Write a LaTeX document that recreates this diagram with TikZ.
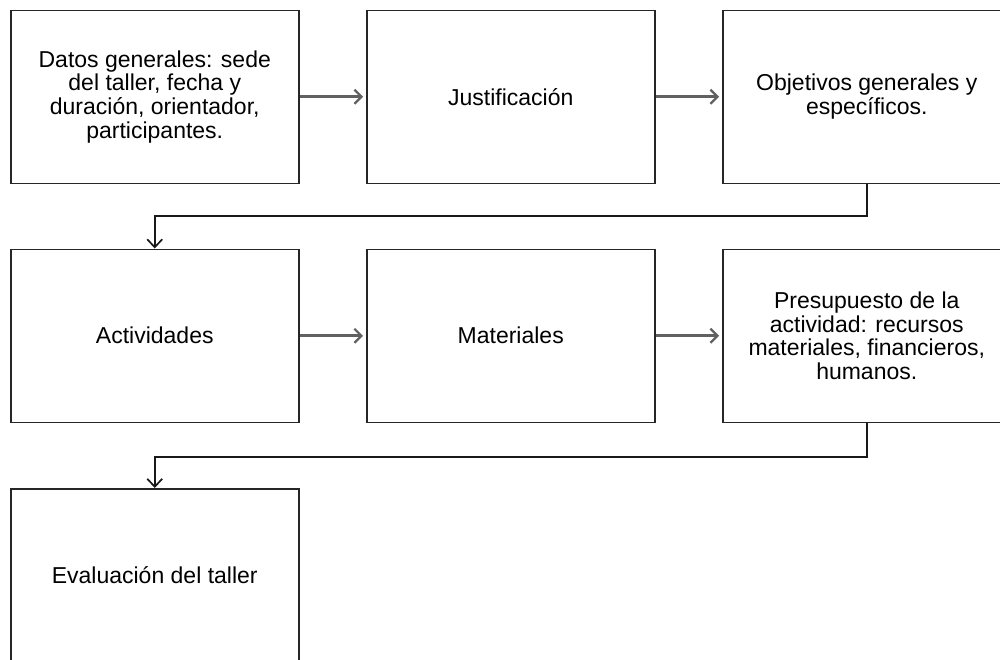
\documentclass[tikz,border=0pt]{standalone}
\usepackage{fontspec}
\setmainfont{Liberation Sans}
\usetikzlibrary{arrows.meta}
\begin{document}
\begin{tikzpicture}[x=1pt,y=-1pt,
  box/.style={draw=black!85,line width=1.5pt,minimum width=288pt,minimum height=173pt,
    inner sep=0pt,align=center,font=\fontsize{23}{23.7}\selectfont,text=black,anchor=north west},
  flow/.style={draw=black!62,line width=2.6pt,shorten >=3pt,
    -{Straight Barb[length=7pt,width=14pt,line width=2.2pt]}},
  elbow/.style={draw=black!90,line width=1.5pt,
    -{Straight Barb[length=8pt,width=15pt,line width=1.7pt]}}]
\useasboundingbox (0,0) rectangle (1000,659);
\clip (0,0) rectangle (1000,659);
\node[box] (n1) at (10,9.5) {Datos generales: sede\\del taller, fecha y\\duración, orientador,\\participantes.};
\node[box] (n2) at (366,9.5) {Justificación};
\node[box] (n3) at (722,9.5) {Objetivos generales y\\específicos.};
\node[box] (n4) at (10,248.5) {Actividades};
\node[box] (n5) at (366,248.5) {Materiales};
\node[box] (n6) at (722,248.5) {Presupuesto de la\\actividad: recursos\\materiales, financieros,\\humanos.};
\node[box] (n7) at (10,488) {Evaluación del taller};
\draw[flow] (n1.east) -- (n2.west);
\draw[flow] (n2.east) -- (n3.west);
\draw[flow] (n4.east) -- (n5.west);
\draw[flow] (n5.east) -- (n6.west);
\draw[elbow] (n3.south) -- ++(0,32) -| (n4.north);
\draw[elbow] (n6.south) -- ++(0,34) -| (n7.north);
\end{tikzpicture}
\end{document}
